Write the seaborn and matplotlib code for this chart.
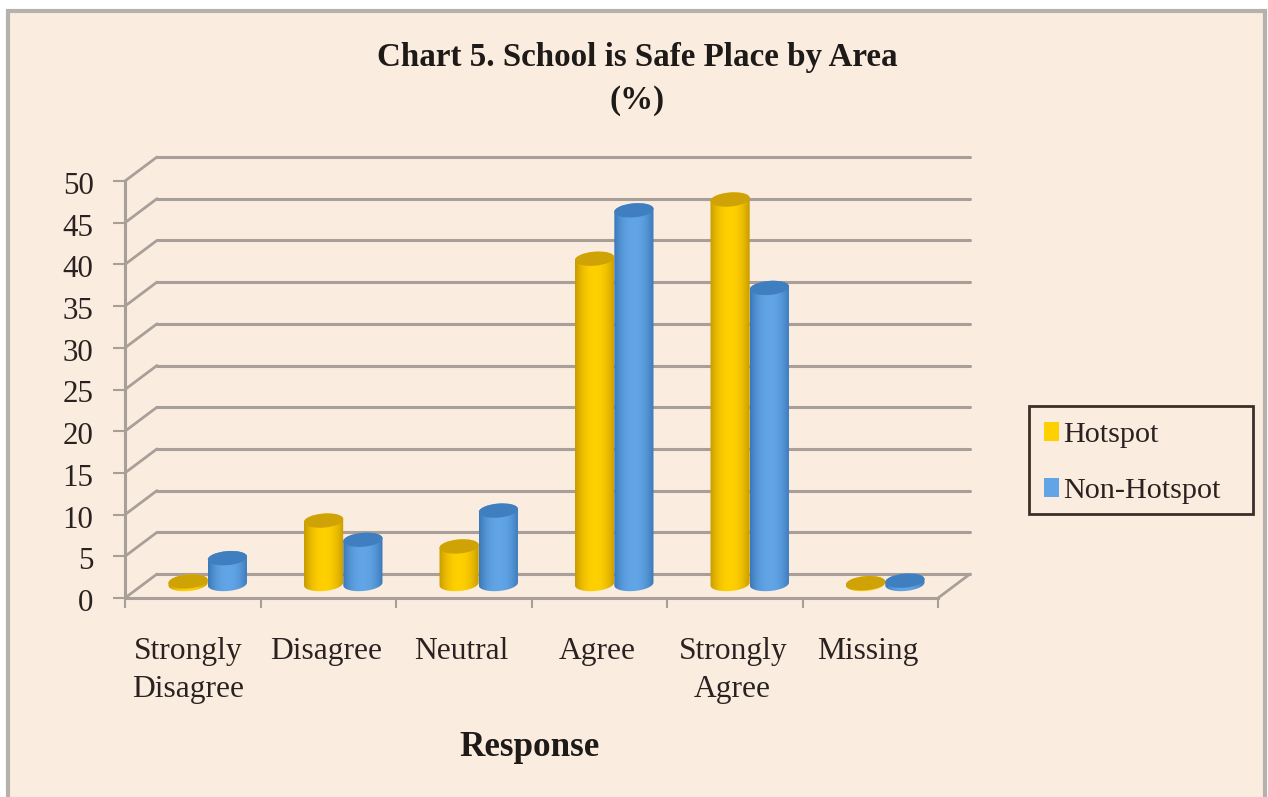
import numpy as np
import pandas as pd
import matplotlib
matplotlib.use("Agg")
import matplotlib.pyplot as plt
import seaborn as sns
from matplotlib.patches import Rectangle, Ellipse, Polygon, ConnectionPatch
from matplotlib.transforms import IdentityTransform, Affine2D

categories = ["Strongly\nDisagree", "Disagree", "Neutral", "Agree", "Strongly\nAgree", "Missing"]
hotspot = [0.3, 7.6, 4.5, 39.0, 46.1, 0.1]
non_hotspot = [3.1, 5.3, 8.8, 44.8, 35.5, 0.4]
series_names = ["Hotspot", "Non-Hotspot"]
y_ticks = list(range(0, 51, 5))
title = "Chart 5. School is Safe Place by Area\n(%)"
xlabel = "Response"

W, H = 1268, 797
BG = "#FBECE0"
GRID = "#A8A098"
INK = "#2A2220"
COL = {"Hotspot": ("#FFD000", "#C79A00", "#CFA205"),
       "Non-Hotspot": ("#62A5E6", "#3A78B8", "#3F7FC0")}

sns.set_theme(style="white")
plt.rcParams["font.family"] = ["Liberation Serif", "DejaVu Serif"]

df = pd.DataFrame({
    "Response": categories * 2,
    "Area": [series_names[0]] * 6 + [series_names[1]] * 6,
    "Percent": hotspot + non_hotspot,
})


def rect(x0, ytop, x1, ybot):
    return [x0 / W, 1 - ybot / H, (x1 - x0) / W, (ybot - ytop) / H]


fig = plt.figure(figsize=(W / 100, H / 100), dpi=100, facecolor="white")
fig.add_artist(Rectangle((7.5 / W, -0.02), (1264.5 - 7.5) / W, 1.02 - 10.5 / H,
                         transform=fig.transFigure, facecolor=BG,
                         edgecolor="#B5B1AC", linewidth=3, zorder=-5))

# Back wall with gridlines
back = fig.add_axes(rect(157, 157, 970, 574), facecolor="none")
back.set_xlim(-0.5, 5.5)
back.set_ylim(0, 50)
back.set_yticks(y_ticks)
back.set_xticks([])
back.tick_params(left=False, labelleft=False)
back.grid(axis="y", color=GRID, linewidth=2.2)
back.set_axisbelow(True)
for line in back.get_ygridlines():
    line.set_clip_on(False)
sns.despine(ax=back, left=True, bottom=True, top=True, right=True)

# Front frame: axes, ticks, labels
front = fig.add_axes(rect(125, 181, 938, 598), facecolor="none")
front.set_xlim(-0.5, 5.5)
front.set_ylim(0, 50)
front.set_yticks(y_ticks)
front.set_xticks(range(6))
front.set_xticklabels(categories, fontsize=22.7, color=INK, linespacing=1.42)
front.set_xticks(np.arange(-0.5, 6), minor=True)
front.tick_params(axis="x", which="major", length=0, pad=28)
front.tick_params(axis="x", which="minor", length=7, width=1.5, color=GRID, bottom=True)
front.tick_params(axis="y", length=8.6, width=1.5, color=GRID, labelsize=22.3, labelcolor=INK, pad=14, left=True)
for i, label in enumerate(front.get_xticklabels()):
    label.set_transform(label.get_transform() + Affine2D().translate(-5 if i == 0 else -2, 0))
for label in front.get_yticklabels():
    label.set_transform(label.get_transform() + Affine2D().translate(0, -2))
for side in ("left", "bottom"):
    front.spines[side].set_color(GRID)
    front.spines[side].set_linewidth(2.2)
for side in ("top", "right"):
    front.spines[side].set_visible(False)

# Side wall and floor diagonals
for v in y_ticks:
    fig.add_artist(ConnectionPatch((-0.5, v), (-0.5, v), "data", "data", axesA=front, axesB=back,
                                   color=GRID, linewidth=2.0))
fig.add_artist(ConnectionPatch((5.5, 0), (5.5, 0), "data", "data", axesA=front, axesB=back,
                               color=GRID, linewidth=2.0))

# Bars, standing halfway into the depth
ax = fig.add_axes(rect(140, 167, 953, 584), facecolor="none")
sns.barplot(data=df, x="Response", y="Percent", hue="Area", hue_order=series_names,
            order=categories, palette={k: v[0] for k, v in COL.items()},
            width=0.58, gap=0, saturation=1, legend=False, ax=ax)
ax.set_xlim(-0.5, 5.5)
ax.set_ylim(0, 50)
ax.axis("off")

gradient = np.abs(np.linspace(-1, 1, 64)) ** 2.2
gradient = gradient[None, :]
bars = list(ax.patches)
names = [series_names[0]] * 6 + [series_names[1]] * 6
EH = 14.0
TILT = np.deg2rad(5)
for order, (bar, name) in enumerate(zip(bars, names)):
    light, dark, top = COL[name]
    x0, y0 = ax.transData.transform((bar.get_x(), 0))
    x1, y1 = ax.transData.transform((bar.get_x() + bar.get_width(), bar.get_height()))
    cx = (x0 + x1) / 2
    a, b = (x1 - x0) / 2, EH / 2

    def arc(cy, t0, t1):
        t = np.linspace(t0, t1, 40)
        px = a * np.cos(t)
        py = b * np.sin(t)
        return np.column_stack([cx + px * np.cos(TILT) - py * np.sin(TILT),
                                cy + px * np.sin(TILT) + py * np.cos(TILT)])

    outline = np.vstack([arc(y0, np.pi, 2 * np.pi), arc(y1, 0, np.pi)])
    clip = Polygon(outline, closed=True, transform=IdentityTransform(), facecolor="none", edgecolor="none")
    ax.add_patch(clip)
    clip.set_zorder(3 + order)
    cmap = matplotlib.colors.LinearSegmentedColormap.from_list("c", [light, dark])
    im = ax.imshow(gradient, extent=(bar.get_x(), bar.get_x() + bar.get_width(), -2, 52),
                   aspect="auto", cmap=cmap, vmin=0, vmax=1, zorder=3 + order, interpolation="bilinear")
    im.set_clip_path(clip)
    im.set_clip_box(fig.bbox)
    top_face = Ellipse((cx, y1), 2 * a, EH, angle=np.rad2deg(TILT), transform=IdentityTransform(),
                       facecolor=top, edgecolor="none", zorder=3 + order)
    ax.add_patch(top_face)
    top_face.set_clip_on(False)
    bar.set_visible(False)
ax.set_xlim(-0.5, 5.5)
ax.set_ylim(0, 50)

# Legend: frame drawn separately so the rows can sit as in the reference
fig.add_artist(Rectangle((1029 / W, 1 - 514 / H), 224 / W, 108.5 / H, transform=fig.transFigure,
                         facecolor=BG, edgecolor="#3C2F28", linewidth=2, zorder=2))
handles = [Rectangle((0, 0), 1, 1, facecolor=COL[n][0], edgecolor="none") for n in series_names]
leg = fig.legend(handles, series_names, loc="upper left",
                 bbox_to_anchor=(1044 / W, 1 - 422 / H),
                 fontsize=21.8, frameon=False,
                 handlelength=0.48, handleheight=0.58, handletextpad=0.14,
                 labelspacing=1.0, borderpad=0, borderaxespad=0, labelcolor=INK)
leg.set_zorder(3)

fig.text(637 / W, 1 - 79 / H, title, ha="center", va="center", fontsize=23.8, fontweight="bold",
         color="#1E1A18", linespacing=1.45)
fig.text(529 / W, 1 - 747 / H, xlabel, ha="center", va="center", fontsize=25.2, fontweight="bold",
         color="#1E1A18")

fig.savefig("out.png", dpi=100, facecolor="white")
